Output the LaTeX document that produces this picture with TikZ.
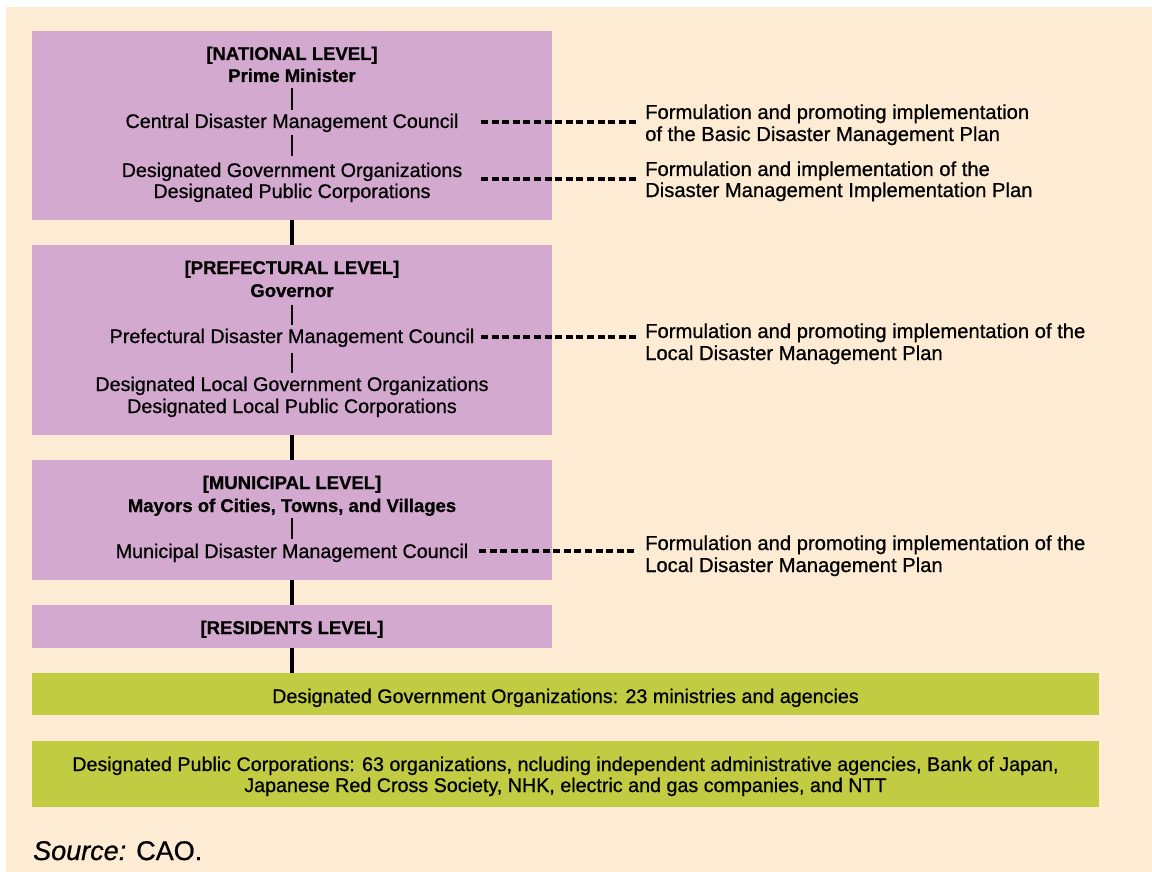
\documentclass[tikz,border=0pt]{standalone}
\usepackage{fontspec}
\setmainfont{Liberation Sans}[RawFeature={embolden=0.8}]
\definecolor{peach}{RGB}{253,235,212}
\definecolor{lilac}{RGB}{211,169,207}
\definecolor{lime}{RGB}{194,204,66}
\begin{document}
\begin{tikzpicture}[x=1pt,y=-1pt,
  lvlbox/.style={fill=lilac, draw=none, inner sep=0pt, minimum width=520pt},
  grnbox/.style={fill=lime, draw=none, inner sep=0pt, minimum width=1067pt},
  txt/.style={font=\fontsize{19.7}{21}\selectfont, inner sep=0pt, anchor=base},
  ttl/.style={font=\fontsize{18.5}{21}\selectfont\bfseries, inner sep=0pt, anchor=base},
  rtxt/.style={font=\fontsize{20.2}{21}\selectfont, inner sep=0pt, anchor=base west},
  spine/.style={line width=4pt},
  tickline/.style={line width=1.5pt},
  dotline/.style={line width=3.2pt, dash pattern=on 7pt off 3.6pt}]
\useasboundingbox (0,0) rectangle (1152,872);
\fill[white] (0,0) rectangle (1152,872);
\fill[peach] (6,7) rectangle (1152,872);

% boxes
\node[lvlbox, minimum height=189pt] (natbox) at (292,125.5) {};
\node[lvlbox, minimum height=190pt] (prefbox) at (292,340) {};
\node[lvlbox, minimum height=120pt] (munbox) at (292,520) {};
\node[lvlbox, minimum height=43pt] (resbox) at (292,626.5) {};
\node[grnbox, minimum height=42pt] (g1) at (565.5,694) {};
\node[grnbox, minimum height=66pt] (g2) at (565.5,774) {};

% spine
\draw[spine] (natbox.south) -- (prefbox.north);
\draw[spine] (prefbox.south) -- (munbox.north);
\draw[spine] (munbox.south) -- (resbox.north);
\draw[spine] (resbox.south) -- (resbox.south |- g1.north);

% national
\node[ttl] (natT) at (292,60) {[NATIONAL LEVEL]};
\node[ttl] (pm) at (292,82) {Prime Minister};
\node[txt] (cdmc) at (292,128) {Central Disaster Management Council};
\node[txt] (dgo) at (292,177) {Designated Government Organizations};
\node[txt] (dpc) at (292,198) {Designated Public Corporations};
\draw[tickline] ([yshift=-6pt]pm.base) -- ([yshift=18pt]cdmc.base);
\draw[tickline] ([yshift=-7pt]cdmc.base) -- ([yshift=21pt]dgo.base);

% prefectural
\node[ttl] (prefT) at (292,274) {[PREFECTURAL LEVEL]};
\node[ttl] (gov) at (292,297) {Governor};
\node[txt] (pdmc) at (292,343) {Prefectural Disaster Management Council};
\node[txt] (dlgo) at (292,391) {Designated Local Government Organizations};
\node[txt] (dlpc) at (292,413) {Designated Local Public Corporations};
\draw[tickline] ([yshift=-8pt]gov.base) -- ([yshift=18pt]pdmc.base);
\draw[tickline] ([yshift=-10pt]pdmc.base) -- ([yshift=18pt]dlgo.base);

% municipal
\node[ttl] (munT) at (292,489) {[MUNICIPAL LEVEL]};
\node[ttl] (may) at (292,512) {Mayors of Cities, Towns, and Villages};
\node[txt] (mdmc) at (292,558) {Municipal Disaster Management Council};
\draw[tickline] ([yshift=-6pt]may.base) -- ([yshift=19pt]mdmc.base);

% residents
\node[ttl] (resT) at (292,634) {[RESIDENTS LEVEL]};

% right texts
\node[rtxt] (r1a) at (645,119) {Formulation and promoting implementation};
\node[rtxt] (r1b) at (645,141) {of the Basic Disaster Management Plan};
\node[rtxt] (r2a) at (645,176) {Formulation and implementation of the};
\node[rtxt] (r2b) at (645,197) {Disaster Management Implementation Plan};
\node[rtxt] (r3a) at (645,338) {Formulation and promoting implementation of the};
\node[rtxt] (r3b) at (645,360) {Local Disaster Management Plan};
\node[rtxt] (r4a) at (645,550) {Formulation and promoting implementation of the};
\node[rtxt] (r4b) at (645,572) {Local Disaster Management Plan};

% dashed connectors
\coordinate (d1) at (481,122);
\coordinate (d2) at (481,179);
\coordinate (d3) at (481,337);
\coordinate (d4) at (479,551);
\draw[dotline] (d1) -- ([xshift=-8pt]d1 -| r1a.west);
\draw[dotline] (d2) -- ([xshift=-8pt]d2 -| r2a.west);
\draw[dotline] (d3) -- ([xshift=-8pt]d3 -| r3a.west);
\draw[dotline] (d4) -- ([xshift=-8pt]d4 -| r4a.west);

% green texts
\node[txt] (g1t) at (565.5,703) {Designated Government Organizations: 23 ministries and agencies};
\node[txt] (g2a) at (565.5,771) {Designated Public Corporations: 63 organizations, ncluding independent administrative agencies, Bank of Japan,};
\node[txt] (g2b) at (565.5,792) {Japanese Red Cross Society, NHK, electric and gas companies, and NTT};

% source
\node[anchor=base west, inner sep=0pt, font=\fontsize{27}{30}\selectfont] (src) at (33,860) {\textit{Source:} CAO.};
\end{tikzpicture}
\end{document}
